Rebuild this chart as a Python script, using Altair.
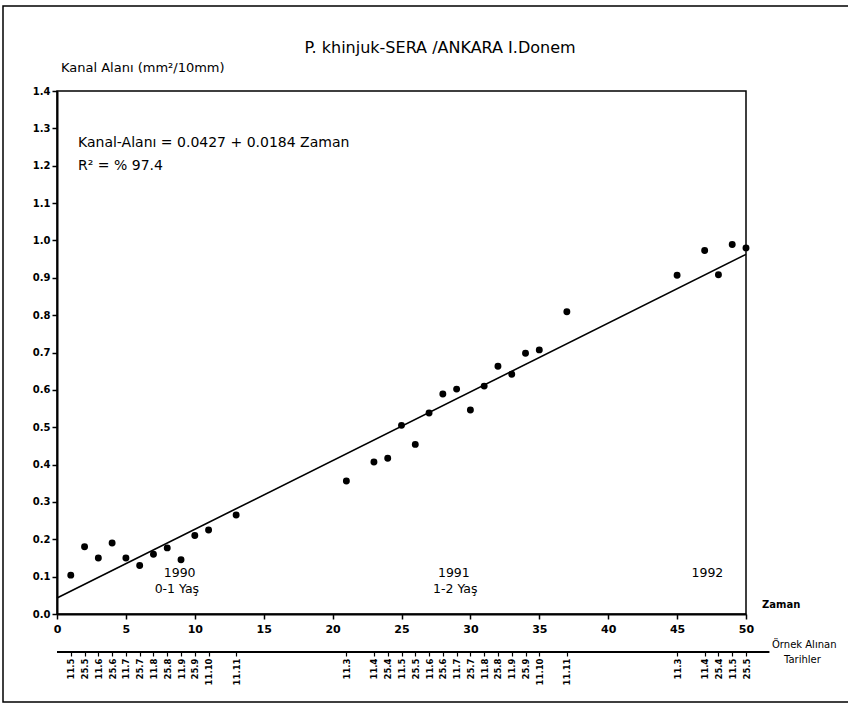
import altair as alt
import pandas as pd

# ---- data ----
zaman = [1, 2, 3, 4, 5, 6, 7, 8, 9, 10, 11, 13, 21, 23, 24, 25, 26, 27, 28, 29, 30,
         31, 32, 33, 34, 35, 37, 45, 47, 48, 49, 50]
kanal_alani = [0.104, 0.180, 0.150, 0.190, 0.150, 0.130, 0.160, 0.177, 0.145, 0.210, 0.225,
               0.265, 0.356, 0.407, 0.417, 0.505, 0.454, 0.538, 0.589, 0.602, 0.546,
               0.610, 0.663, 0.642, 0.698, 0.707, 0.809, 0.907, 0.973, 0.908, 0.989, 0.980]
tarihler = ['11.5', '25.5', '11.6', '25.6', '11.7', '25.7', '11.8', '25.8', '11.9', '25.9', '11.10',
            '11.11', '11.3', '11.4', '25.4', '11.5', '25.5', '11.6', '25.6', '11.7', '25.7',
            '11.8', '25.8', '11.9', '25.9', '11.10', '11.11', '11.3', '11.4', '25.4', '11.5', '25.5']

# fitted line: Kanal-Alani = 0.0427 + 0.0184 Zaman, endpoints at Zaman = 0 and 50
fit_x = [0, 50]
fit_y = [0.0427, 0.9627]

year_x = [8.9, 8.7, 28.8, 28.9, 47.2]
year_y = [0.110, 0.068, 0.110, 0.068, 0.110]
year_txt = ['1990', '0-1 Yaş', '1991', '1-2 Yaş', '1992']

x_ticks = [0, 5, 10, 15, 20, 25, 30, 35, 40, 45, 50]
y_ticks = [0.0, 0.1, 0.2, 0.3, 0.4, 0.5, 0.6, 0.7, 0.8, 0.9, 1.0, 1.1, 1.2, 1.3, 1.4]

FONT = "DejaVu Sans"
W, H = 689, 523

df = pd.DataFrame({"t": zaman, "v": kanal_alani, "d": tarihler})
fit_df = pd.DataFrame({"t": fit_x, "v": fit_y})
yr_df = pd.DataFrame({"t": year_x, "v": year_y, "txt": year_txt})
one = pd.DataFrame({"a": [0]})

xscale = alt.Scale(domain=[0, 50], nice=False, zero=False)
yscale = alt.Scale(domain=[0, 1.4], nice=False, zero=False)

yaxis = alt.Axis(values=y_ticks, format=".1f", title=None, grid=False,
                 domainColor="black", domainWidth=2, tickColor="black",
                 tickSize=5, tickWidth=1.5, labelFont=FONT, labelFontSize=10,
                 labelFontWeight="bold", labelColor="black", labelPadding=2,
                 labelFlush=False)

label_expr = ("[" + ",".join(f"'{s}'" for s in tarihler) + "][indexof(["
              + ",".join(str(p) for p in zaman) + "], datum.value)]")

points = alt.Chart(df).mark_circle(size=48, color="black", opacity=1).encode(
    x=alt.X("t:Q", scale=xscale,
            axis=alt.Axis(orient="bottom", values=x_ticks, title=None, grid=False,
                          domainColor="black", domainWidth=2, tickColor="black",
                          tickSize=5, tickWidth=1.5, labelFont=FONT, labelFontSize=11,
                          labelFontWeight="bold", labelColor="black", labelPadding=4,
                          labelFlush=False)),
    y=alt.Y("v:Q", scale=yscale, axis=yaxis),
)

fit = alt.Chart(fit_df).mark_line(color="black", strokeWidth=1.6).encode(
    x=alt.X("t:Q", scale=xscale, axis=None),
    y=alt.Y("v:Q", scale=yscale, axis=yaxis),
)

dates = alt.Chart(df).mark_tick(opacity=0).encode(
    x=alt.X("t:Q", scale=xscale,
            axis=alt.Axis(orient="bottom", offset=38, values=zaman, labelExpr=label_expr,
                          labelAngle=270, title=None, grid=False, domain=False,
                          tickColor="black", tickSize=4, tickWidth=1.2,
                          labelFont=FONT, labelFontSize=8.5, labelFontWeight="bold",
                          labelColor="black", labelPadding=2, labelFlush=False,
                          labelOverlap=False)),
)

date_line = alt.Chart(pd.DataFrame({"x0": [0], "x1": [51.7]})).mark_rule(
    color="black", strokeWidth=1.8).encode(
    x=alt.X("x0:Q", scale=xscale, axis=None),
    x2="x1:Q",
    y=alt.value(H + 38),
)

years = alt.Chart(yr_df).mark_text(font=FONT, fontSize=12.5, color="black",
                                   align="center", baseline="middle").encode(
    x=alt.X("t:Q", scale=xscale, axis=None),
    y=alt.Y("v:Q", scale=yscale, axis=yaxis),
    text="txt:N",
)


def note(txt, x, y, size, align="left", weight="normal"):
    return alt.Chart(one).mark_text(font=FONT, fontSize=size, color="black", align=align,
                                    baseline="middle", fontWeight=weight).encode(
        x=alt.value(x), y=alt.value(y), text=alt.value(txt))


notes = [
    note("P. khinjuk-SERA /ANKARA I.Donem", 383, -43, 16, align="center"),
    note("Kanal Alanı (mm²/10mm)", 4, -23, 13),
    note("Kanal-Alanı = 0.0427 + 0.0184 Zaman", 21, 52, 14),
    note("R² = % 97.4", 21, 75, 14),
    note("Zaman", 705, 514, 10, weight="bold"),
    note("Örnek Alınan", 715, 554, 10),
    note("Tarihler", 727, 569, 10),
]

frame = alt.Chart(one).mark_rect(fill=None, stroke="black", strokeWidth=1.5).encode(
    x=alt.value(-54), x2=alt.value(800), y=alt.value(-85), y2=alt.value(611))

chart = alt.layer(points, fit, dates, date_line, years, frame, *notes).resolve_axis(
    x="independent"
).properties(
    width=W, height=H,
    padding={"left": 57, "top": 91, "right": 848 - 57 - W, "bottom": 706 - 91 - H},
    autosize=alt.AutoSizeParams(type="none"),
    background="white",
).configure_view(stroke="black", strokeWidth=1.5)

chart.save("out.html", embed_options={"renderer": "svg", "actions": False})
